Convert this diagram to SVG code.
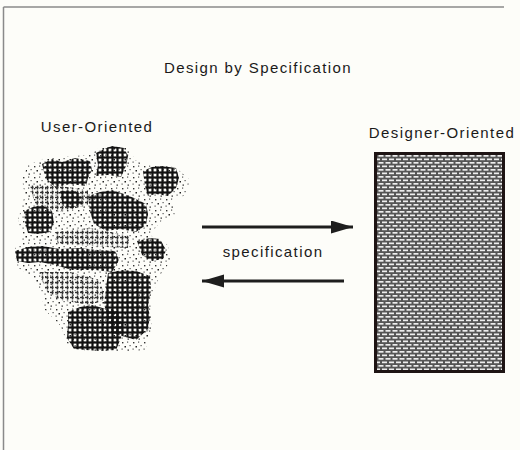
<svg xmlns="http://www.w3.org/2000/svg" width="520" height="450" viewBox="0 0 520 450">
  <style>
    .lbl { font-family: "Liberation Sans", Arial, sans-serif; font-size: 15px; letter-spacing: 1.4px; fill: #1a1a1a; }
    .frame { stroke: #8a8a8a; stroke-width: 1.5; fill: none; }
    .arrow { stroke: #1e1e1e; stroke-width: 3; fill: none; marker-end: url(#head); }
  </style>
  <defs>
    <marker id="head" markerUnits="userSpaceOnUse" markerWidth="24" markerHeight="14" refX="22" refY="6.5" orient="auto">
      <path d="M0,0 L22,6.5 L0,13 Z" fill="#1e1e1e"/>
    </marker>
    <pattern id="brick" patternUnits="userSpaceOnUse" width="7" height="7">
      <rect width="7" height="7" fill="#555"/>
      <rect x="0.5" y="1" width="5" height="1.7" fill="#eee"/>
      <rect x="4" y="4.5" width="3" height="1.7" fill="#eee"/>
      <rect x="0" y="4.5" width="2" height="1.7" fill="#eee"/>
    </pattern>
    <pattern id="hash" patternUnits="userSpaceOnUse" width="5" height="5">
      <rect x="0" y="1.4" width="5" height="2.2" fill="#111"/>
      <rect x="1.4" y="0" width="2.2" height="5" fill="#111"/>
    </pattern>
    <pattern id="hashl" patternUnits="userSpaceOnUse" width="5" height="5">
      <rect x="0" y="1.8" width="3.5" height="1.4" fill="#333"/>
      <rect x="1.8" y="0.5" width="1.4" height="4" fill="#333"/>
    </pattern>
    <pattern id="speck" patternUnits="userSpaceOnUse" width="11" height="11">
      <rect x="1" y="1" width="1.4" height="1.4" fill="#333"/>
      <rect x="6" y="0.5" width="1.2" height="1.2" fill="#555"/>
      <rect x="3.5" y="5" width="1.5" height="1.5" fill="#222"/>
      <rect x="8.5" y="4" width="1.2" height="1.2" fill="#555"/>
      <rect x="0.5" y="7.5" width="1.2" height="1.2" fill="#555"/>
      <rect x="6.5" y="8.5" width="1.5" height="1.2" fill="#333"/>
    </pattern>
  </defs>

  <rect width="520" height="450" fill="#fdfdf9"/>
  <g id="frame">
    <line class="frame" x1="3.5" y1="7" x2="3.5" y2="450"/>
    <line class="frame" x1="3.5" y1="7" x2="504" y2="7"/>
  </g>

  <g id="title">
    <text class="lbl" x="258" y="73" text-anchor="middle">Design by Specification</text>
  </g>

  <g id="user-oriented">
    <text class="lbl" x="97" y="132" text-anchor="middle">User-Oriented</text>
    <path fill="url(#speck)" d="M28,165 L45,158 L90,155 L100,147 L128,146 L135,160 L145,165 L175,167 L190,180 L186,195 L172,200 L175,215 L160,222 L150,235 L168,245 L170,262 L160,275 L150,300 L152,330 L145,350 L120,352 L90,352 L68,345 L60,325 L45,310 L40,290 L30,275 L18,268 L14,250 L22,240 L18,220 L25,195 L22,180 Z"/>
    <g fill="url(#hashl)">
      <path d="M30,185 L60,186 L88,190 L88,205 L60,212 L35,205 Z"/>
      <path d="M55,232 L90,228 L130,236 L128,248 L90,246 L58,244 Z"/>
      <path d="M40,272 L70,272 L100,280 L105,300 L90,305 L60,300 L45,290 Z"/>
      <path d="M125,300 L150,302 L150,330 L140,335 Z"/>
    </g>
    <g fill="url(#hash)">
      <path d="M42,164 L52,159 L62,162 L75,158 L90,161 L92,170 L88,178 L86,186 L70,184 L55,187 L47,180 L44,172 Z"/>
      <path d="M96,153 L104,149 L112,146 L124,148 L128,156 L126,166 L121,177 L108,175 L96,176 L98,165 Z"/>
      <path d="M143,171 L152,167 L162,166 L176,168 L179,178 L176,188 L168,196 L156,194 L148,196 L145,186 Z"/>
      <path d="M88,196 L100,192 L112,190 L124,194 L134,198 L146,204 L148,214 L146,225 L136,232 L120,229 L106,231 L94,224 L90,212 Z"/>
      <path d="M24,211 L33,207 L42,205 L52,211 L54,222 L50,232 L38,234 L28,233 L25,222 Z"/>
      <path d="M15,251 L28,247 L42,246 L60,249 L80,248 L98,250 L115,251 L119,260 L112,272 L95,270 L72,270 L55,265 L40,262 L28,263 L17,261 Z"/>
      <path d="M108,273 L122,270 L136,271 L150,276 L151,290 L148,305 L150,318 L147,330 L136,340 L122,336 L112,333 L108,318 L104,304 L106,288 Z"/>
      <path d="M68,312 L80,307 L92,305 L106,309 L118,311 L122,324 L121,338 L116,350 L100,351 L86,350 L74,349 L67,338 L68,325 Z"/>
      <path d="M137,241 L150,238 L160,239 L166,250 L163,259 L152,261 L142,255 Z"/>
      <path d="M60,191 L72,190 L81,194 L82,204 L72,208 L63,206 Z"/>
    </g>
  </g>

  <g id="designer-oriented">
    <text class="lbl" x="442" y="138" text-anchor="middle">Designer-Oriented</text>
    <rect x="375.5" y="153.5" width="128" height="218" fill="url(#brick)" stroke="#1e1414" stroke-width="3"/>
  </g>

  <g id="connectors">
    <line class="arrow" x1="202" y1="227" x2="353" y2="227"/>
    <line class="arrow" x1="344" y1="281" x2="202" y2="281"/>
  </g>
  <g id="spec-label">
    <text class="lbl" x="273" y="257" text-anchor="middle">specification</text>
  </g>
</svg>
